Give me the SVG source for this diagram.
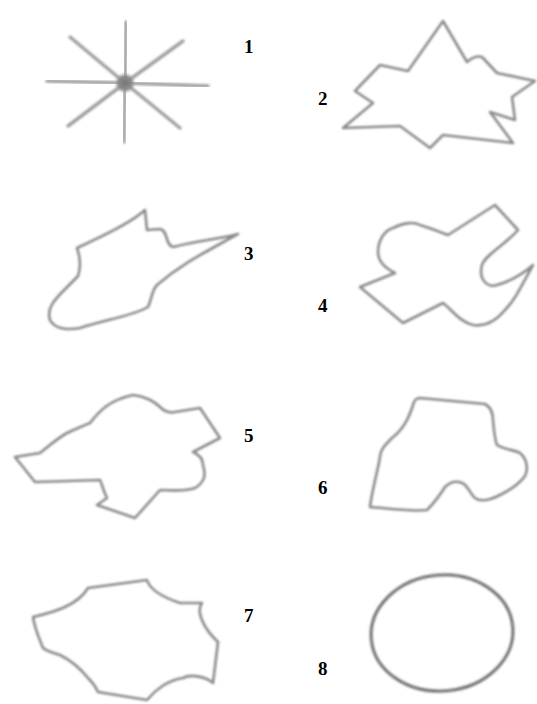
<svg xmlns="http://www.w3.org/2000/svg" width="537" height="704" viewBox="0 0 537 704">
<defs>
<style>
.s{fill:none;stroke:#8a8a8a;stroke-width:2.6;stroke-linejoin:round;stroke-linecap:round;filter:url(#b)}
.r{stroke:#a0a0a0;stroke-width:3.5;stroke-linecap:round;filter:url(#b)}
.t{font-family:"Liberation Serif",serif;font-weight:bold;font-size:19px;fill:#000}
</style>
<filter id="b" x="-10%" y="-10%" width="120%" height="120%"><feGaussianBlur stdDeviation="0.8"/></filter>
<radialGradient id="blob">
<stop offset="0" stop-color="#777"/>
<stop offset="0.6" stop-color="#888" stop-opacity="0.9"/>
<stop offset="1" stop-color="#aaa" stop-opacity="0"/>
</radialGradient>
</defs>
<rect width="537" height="704" fill="#fff"/>
<g id="shape1">
<line class="r" x1="125" y1="83" x2="126" y2="22"/>
<line class="r" x1="125" y1="83" x2="124" y2="142"/>
<line class="r" x1="125" y1="83" x2="47" y2="81"/>
<line class="r" x1="125" y1="83" x2="208" y2="86"/>
<line class="r" x1="125" y1="83" x2="70" y2="37"/>
<line class="r" x1="125" y1="83" x2="183" y2="41"/>
<line class="r" x1="125" y1="83" x2="68" y2="126"/>
<line class="r" x1="125" y1="83" x2="180" y2="128"/>
<circle cx="125" cy="83" r="11" fill="url(#blob)"/>
<text class="t" x="244" y="53">1</text>
</g>
<g id="shape2">
<path class="s" d="M443,21 L467,62 Q475,55 482,57 L497,73 L535,81 L512,97 L515,120 L490,112 L513,143 L443,135 L430,148 L400,126 L343,128 L373,103 L355,91 L380,65 L408,71 Z"/>
<text class="t" x="318" y="105">2</text>
</g>
<g id="shape3">
<path class="s" d="M145,210 C132,222 105,235 77,248 C82,262 80,270 78,276 C60,295 45,305 50,320 C55,330 70,330 80,328 C105,320 135,315 148,307 C152,298 152,290 157,285 C180,265 200,255 238,234 C225,238 200,240 173,247 C165,245 168,230 160,229 L147,230 Z"/>
<text class="t" x="244" y="260">3</text>
</g>
<g id="shape4">
<path class="s" d="M495,205 L518,230 C505,245 485,255 482,265 C478,280 488,288 497,285 C515,280 525,272 533,265 C522,285 515,300 505,310 C495,322 485,327 473,325 C460,322 452,310 443,303 L403,323 L360,287 L395,273 C385,268 378,262 378,252 C378,240 385,230 393,228 C405,222 415,222 420,225 C430,228 440,232 448,235 Z"/>
<text class="t" x="318" y="312">4</text>
</g>
<g id="shape5">
<path class="s" d="M133,395 C145,396 155,402 160,407 C165,412 170,413 175,412 L200,408 L220,438 L193,452 C200,455 203,460 203,465 C206,475 205,482 195,488 C185,492 170,490 160,490 L135,518 L97,505 L107,498 C103,490 102,484 100,480 L35,482 L15,457 L40,453 C50,445 58,438 67,433 C78,428 85,425 90,423 C100,410 110,400 133,395 Z"/>
<text class="t" x="244" y="442">5</text>
</g>
<g id="shape6">
<path class="s" d="M420,398 L485,404 C492,408 493,415 493,420 C494,432 495,440 497,445 C505,450 515,450 520,453 C528,460 528,470 525,476 C520,483 510,490 500,495 C490,500 480,502 475,498 C470,494 468,485 462,483 C455,480 450,482 445,487 C440,495 435,502 427,510 C410,512 385,508 370,507 C372,490 378,470 380,457 C380,450 385,445 392,438 C405,428 410,415 414,402 Q416,398 420,398 Z"/>
<text class="t" x="318" y="494">6</text>
</g>
<g id="shape7">
<path class="s" d="M33,617 C55,612 78,605 88,588 L147,580 C150,590 165,598 180,603 L202,603 C195,612 205,630 218,642 L213,683 C205,676 190,674 183,678 C168,680 155,690 147,700 L98,692 C95,685 90,680 88,678 C80,668 70,660 60,655 C50,652 45,650 43,648 C40,640 35,630 33,617 Z"/>
<text class="t" x="244" y="622">7</text>
</g>
<g id="shape8">
<ellipse class="s" cx="442" cy="633" rx="71" ry="58" transform="rotate(-5 442 633)" style="stroke:#707070;stroke-width:3"/>
<text class="t" x="318" y="675">8</text>
</g>
<g id="connectors"/>
</svg>
